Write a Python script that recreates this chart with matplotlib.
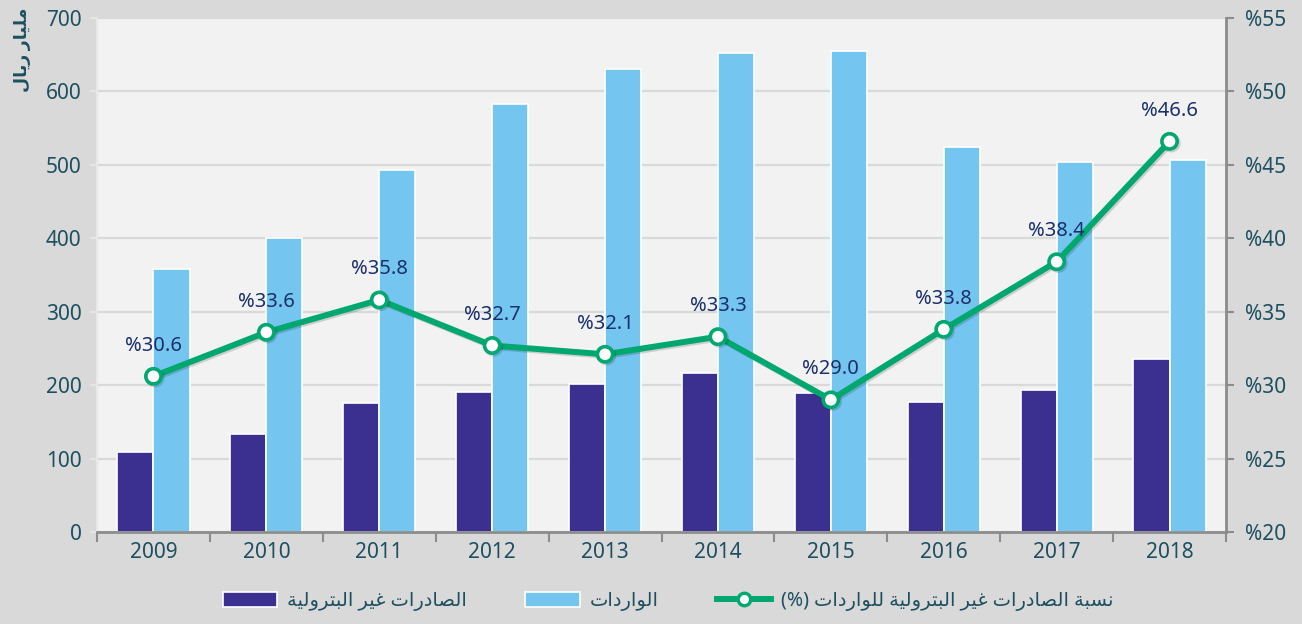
import matplotlib
matplotlib.use("Agg")
import matplotlib.pyplot as plt
import matplotlib.patheffects as pe
from matplotlib.lines import Line2D
from matplotlib.patches import Patch
import numpy as np

# ---- data ----
years = ["2009", "2010", "2011", "2012", "2013", "2014", "2015", "2016", "2017", "2018"]
non_oil_exports = [109, 133, 176, 191, 201, 216, 189, 177, 193, 236]
imports = [358, 400, 493, 583, 630, 652, 655, 525, 504, 506]
ratio_pct = [30.6, 33.6, 35.8, 32.7, 32.1, 33.3, 29.0, 33.8, 38.4, 46.6]

left_ticks = [0, 100, 200, 300, 400, 500, 600, 700]
right_ticks = [20, 25, 30, 35, 40, 45, 50, 55]

y_label = "مليار ريال"
lbl_exports = "الصادرات غير البترولية"
lbl_imports = "الواردات"
lbl_ratio = "نسبة الصادرات غير البترولية للواردات (%)"

# ---- minimal Arabic shaping (contextual forms + RTL order) ----
FORMS = {
    'ا': ('\uFE8D', '\uFE8E', None, None),
    'ب': ('\uFE8F', '\uFE90', '\uFE91', '\uFE92'),
    'ة': ('\uFE93', '\uFE94', None, None),
    'ت': ('\uFE95', '\uFE96', '\uFE97', '\uFE98'),
    'د': ('\uFEA9', '\uFEAA', None, None),
    'ر': ('\uFEAD', '\uFEAE', None, None),
    'س': ('\uFEB1', '\uFEB2', '\uFEB3', '\uFEB4'),
    'ص': ('\uFEB9', '\uFEBA', '\uFEBB', '\uFEBC'),
    'غ': ('\uFECD', '\uFECE', '\uFECF', '\uFED0'),
    'ل': ('\uFEDD', '\uFEDE', '\uFEDF', '\uFEE0'),
    'م': ('\uFEE1', '\uFEE2', '\uFEE3', '\uFEE4'),
    'ن': ('\uFEE5', '\uFEE6', '\uFEE7', '\uFEE8'),
    'و': ('\uFEED', '\uFEEE', None, None),
    'ي': ('\uFEF1', '\uFEF2', '\uFEF3', '\uFEF4'),
}
MIRROR = {'(': ')', ')': '('}


def shape(text):
    out = []
    for i, ch in enumerate(text):
        if ch not in FORMS:
            out.append(MIRROR.get(ch, ch))
            continue
        prev = text[i - 1] if i > 0 else ''
        nxt = text[i + 1] if i + 1 < len(text) else ''
        iso, fin, ini, med = FORMS[ch]
        join_prev = prev in FORMS and FORMS[prev][2] is not None
        join_next = nxt in FORMS and ini is not None
        if join_prev and join_next:
            out.append(med)
        elif join_prev:
            out.append(fin)
        elif join_next:
            out.append(ini)
        else:
            out.append(iso)
    return ''.join(reversed(out))


# ---- style ----
plt.rcParams['font.family'] = ['Noto Sans', 'DejaVu Sans']
FIG_BG = '#d9d9d9'
AX_BG = '#f2f2f2'
GRID = '#d9d9d9'
SPINE = '#8c8c8c'
TXT = '#1d4f60'
ANN = '#1b2f6b'
DARK = '#3b2f8f'
LIGHT = '#74c6f0'
GREEN = '#00a76f'

fig = plt.figure(figsize=(13.02, 6.24), dpi=100, facecolor=FIG_BG)
ax = fig.add_axes([97 / 1302, 1 - 532 / 624, 1129 / 1302, 514 / 624])
ax.set_facecolor(AX_BG)

x = np.arange(len(years))
bw = 0.32
ax.bar(x - bw / 2, non_oil_exports, width=bw, color=DARK, edgecolor='white', linewidth=1.2, zorder=2)
ax.bar(x + bw / 2, imports, width=bw, color=LIGHT, edgecolor='white', linewidth=1.2, zorder=2)

ax.set_xlim(-0.5, len(years) - 0.5)
ax.set_ylim(0, 700)
ax.set_yticks(left_ticks)
ax.yaxis.grid(True, color=GRID, linewidth=1.6, zorder=0)
ax.set_axisbelow(True)

# category boundary ticks + centered labels
ax.set_xticks(np.arange(-0.5, len(years)), labels=[''] * (len(years) + 1))
ax.set_xticks(x, labels=years, minor=True)
ax.tick_params(axis='x', which='major', direction='out', length=7, width=1.5, color=SPINE)
ax.tick_params(axis='x', which='minor', length=0, pad=7, labelsize=15, labelcolor=TXT)
ax.tick_params(axis='y', direction='out', length=5, width=1.2, color='#e8e8e8',
               labelsize=15, labelcolor=TXT, pad=6)

for side in ('top', 'right'):
    ax.spines[side].set_visible(False)
ax.spines['left'].set_color('#e8e8e8')
ax.spines['left'].set_linewidth(1.5)
ax.spines['bottom'].set_color(SPINE)
ax.spines['bottom'].set_linewidth(2)

# ratio on secondary axis
ax2 = ax.twinx()
ax2.set_ylim(20, 55)
ax2.set_yticks(right_ticks, labels=['%' + str(t) for t in right_ticks])
ax2.tick_params(axis='y', direction='out', length=6, width=1.5, color=SPINE,
                labelsize=15, labelcolor=TXT, pad=8)
for side in ('top', 'left', 'bottom'):
    ax2.spines[side].set_visible(False)
ax2.spines['right'].set_color(SPINE)
ax2.spines['right'].set_linewidth(2)

ax2.plot(x, ratio_pct, color=GREEN, linewidth=4.3, marker='o', markersize=11,
         markerfacecolor='white', markeredgecolor=GREEN, markeredgewidth=2.6, zorder=3,
         path_effects=[pe.SimpleLineShadow(offset=(1.2, -1.2), alpha=0.15), pe.Normal()])

for xi, v in zip(x, ratio_pct):
    ax2.annotate('%' + f'{v:.1f}', (xi, v), xytext=(0, 22), textcoords='offset points',
                 ha='center', va='center', fontsize=14.5, color=ANN, zorder=4)

# axis title at the top-left
fig.text(22 / 1302, 1 - 50 / 624, shape(y_label), rotation=90, ha='center', va='center',
         fontsize=12.5, fontweight='bold', color=TXT)

# legend along the bottom
handles = [
    Patch(facecolor=DARK, edgecolor='white', linewidth=1.2),
    Patch(facecolor=LIGHT, edgecolor='white', linewidth=1.2),
    Line2D([], [], color=GREEN, linewidth=4.3, marker='o', markersize=9,
           markerfacecolor='white', markeredgecolor=GREEN, markeredgewidth=2.4),
]
labels = [shape(lbl_exports), shape(lbl_imports), shape(lbl_ratio)]
leg = fig.legend(handles, labels, loc='center', bbox_to_anchor=(668 / 1302, 1 - 601 / 624),
                 ncol=3, frameon=False, fontsize=14, handlelength=2.8, handleheight=0.8,
                 handletextpad=0.5, columnspacing=3.0, labelcolor=TXT)

fig.savefig('out.png', dpi=100, facecolor=FIG_BG)
